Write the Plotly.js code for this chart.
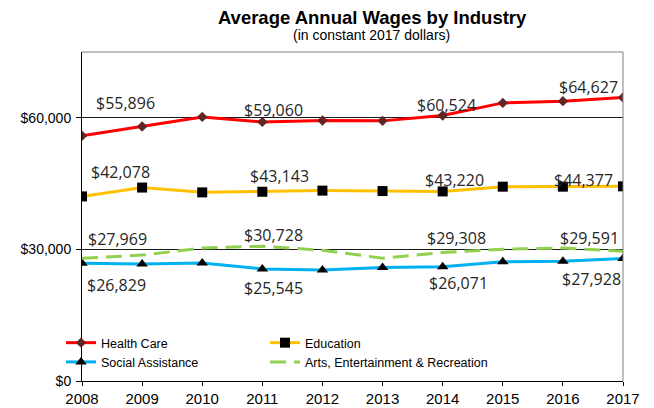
<!DOCTYPE html>
<html>
<head>
<meta charset="utf-8">
<script src="https://cdn.plot.ly/plotly-3.0.1.min.js"></script>
<style>html,body{margin:0;padding:0;background:#fff;}#chart{width:654px;height:408px;}</style>
</head>
<body>
<div id="chart"></div>
<script>
var years = [2008, 2009, 2010, 2011, 2012, 2013, 2014, 2015, 2016, 2017];
var healthCare = [55896, 58000, 60200, 59060, 59400, 59300, 60524, 63400, 63800, 64627];
var education = [42078, 44100, 43000, 43143, 43400, 43300, 43220, 44300, 44300, 44377];
var socialAssistance = [26829, 26700, 26900, 25545, 25300, 25900, 26071, 27200, 27300, 27928];
var artsEntertainment = [27969, 28700, 30300, 30728, 29800, 28000, 29308, 30050, 30300, 29591];
var seriesNames = ["Health Care", "Education", "Social Assistance", "Arts, Entertainment & Recreation"];
var labelledYears = [2008, 2011, 2014, 2017];
var yTickVals = [0, 30000, 60000];

// label offsets (pixels) for each labelled point: [dx, dy]
var hcOffsets = [[43, 33], [11, 12], [4, 11], [-35, 11]];
var edOffsets = [[38, 24], [17, 16], [12, 11], [-40, 6]];
var arOffsets = [[35, 19], [11, 11], [14, 14], [-34, 13]];
var saOffsets = [[34, -22], [11, -19], [16, -16], [-32, -21]];

function fmt(v) { return "$" + v.toLocaleString("en-US"); }

var traces = [
  {x: years, y: healthCare, name: seriesNames[0], type: "scatter", mode: "lines+markers", legend: "legend",
   line: {color: "#FF0000", width: 3}, marker: {symbol: "diamond", size: 8, color: "#632523"}},
  {x: years, y: education, name: seriesNames[1], type: "scatter", mode: "lines+markers", legend: "legend2",
   line: {color: "#FFC000", width: 3}, marker: {symbol: "square", size: 10, color: "#000000"}},
  {x: years, y: socialAssistance, name: seriesNames[2], type: "scatter", mode: "lines+markers", legend: "legend",
   line: {color: "#00B0F0", width: 3}, marker: {symbol: "triangle-up", size: 10, color: "#000000"}},
  {x: years, y: artsEntertainment, name: seriesNames[3], type: "scatter", mode: "lines", legend: "legend2",
   line: {color: "#92D050", width: 3, dash: "16px,8px"}}
];

var annotations = [];
function addLabels(series, offsets) {
  labelledYears.forEach(function (yr, i) {
    var idx = years.indexOf(yr);
    annotations.push({x: yr, y: series[idx], xref: "x", yref: "y", text: fmt(series[idx]),
      showarrow: false, xshift: offsets[i][0], yshift: offsets[i][1],
      font: {family: "Open Sans, sans-serif", size: 16, color: "#262626"}});
  });
}
addLabels(healthCare, hcOffsets);
addLabels(education, edOffsets);
addLabels(artsEntertainment, arOffsets);
addLabels(socialAssistance, saOffsets);

annotations.push({xref: "paper", yref: "paper", x: 0.536, y: 1.052, yanchor: "middle", showarrow: false,
  text: "(in constant 2017 dollars)", font: {family: "Liberation Sans, Arial, sans-serif", size: 14, color: "#000"}});

var legendFont = {family: "Liberation Sans, Arial, sans-serif", size: 12.5, color: "#000"};
var layout = {
  width: 654, height: 408,
  margin: {l: 82, r: 31, t: 52, b: 27, pad: 0, autoexpand: false},
  paper_bgcolor: "#fff", plot_bgcolor: "#fff",
  title: {text: "<b>Average Annual Wages by Industry</b>", x: 0.569, xanchor: "center", y: 0.958, yanchor: "middle",
    font: {family: "Liberation Sans, Arial, sans-serif", size: 18.5, color: "#000"}},
  xaxis: {range: [2008, 2017], tickmode: "array", tickvals: years, ticks: "outside", ticklen: 4, tickcolor: "#000",
    showgrid: false, zeroline: false, showline: true, linecolor: "#000", linewidth: 1,
    tickfont: {family: "Liberation Sans, Arial, sans-serif", size: 15, color: "#000"}},
  yaxis: {range: [0, 75000], tickmode: "array", tickvals: yTickVals, ticktext: yTickVals.map(fmt),
    ticks: "outside", ticklen: 5, tickcolor: "#000", showgrid: true, gridcolor: "#1a1a1a", gridwidth: 1,
    zeroline: false, showline: true, linecolor: "#000", linewidth: 1, ticklabelstandoff: 2,
    tickfont: {family: "Liberation Sans, Arial, sans-serif", size: 14, color: "#000"}},
  shapes: [
    {type: "line", xref: "paper", yref: "paper", x0: 0, x1: 1, y0: 1, y1: 1, line: {color: "#808080", width: 1}},
    {type: "line", xref: "paper", yref: "paper", x0: 1, x1: 1, y0: 0, y1: 1, line: {color: "#808080", width: 1}}
  ],
  legend: {orientation: "v", xref: "container", yref: "container", x: 0.0933, xanchor: "left", y: 0.196, yanchor: "top",
    bgcolor: "rgba(0,0,0,0)", itemwidth: 30, tracegroupgap: 0, font: legendFont},
  legend2: {orientation: "v", xref: "container", yref: "container", x: 0.4052, xanchor: "left", y: 0.196, yanchor: "top",
    bgcolor: "rgba(0,0,0,0)", itemwidth: 30, tracegroupgap: 0, font: legendFont},
  annotations: annotations,
  showlegend: true
};

Plotly.newPlot("chart", traces, layout, {staticPlot: true, displayModeBar: false});
</script>
</body>
</html>
